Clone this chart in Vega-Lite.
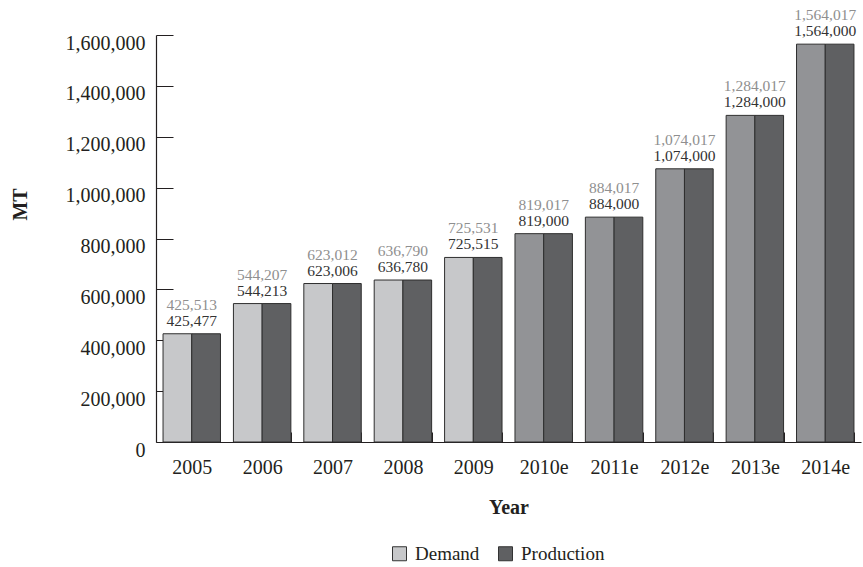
{
  "$schema": "https://vega.github.io/schema/vega-lite/v6.json",
  "width": 705,
  "height": 407,
  "autosize": {"type": "none"},
  "padding": {"left": 156, "top": 35, "right": 2, "bottom": 125},
  "background": "white",
  "config": {"font": "Liberation Serif", "view": {"stroke": null}},
  "data": {
    "values": [
      {"Year": "2005", "Series": "Demand", "Value": 425513},
      {"Year": "2005", "Series": "Production", "Value": 425477},
      {"Year": "2006", "Series": "Demand", "Value": 544207},
      {"Year": "2006", "Series": "Production", "Value": 544213},
      {"Year": "2007", "Series": "Demand", "Value": 623012},
      {"Year": "2007", "Series": "Production", "Value": 623006},
      {"Year": "2008", "Series": "Demand", "Value": 636790},
      {"Year": "2008", "Series": "Production", "Value": 636780},
      {"Year": "2009", "Series": "Demand", "Value": 725531},
      {"Year": "2009", "Series": "Production", "Value": 725515},
      {"Year": "2010e", "Series": "Demand", "Value": 819017},
      {"Year": "2010e", "Series": "Production", "Value": 819000},
      {"Year": "2011e", "Series": "Demand", "Value": 884017},
      {"Year": "2011e", "Series": "Production", "Value": 884000},
      {"Year": "2012e", "Series": "Demand", "Value": 1074017},
      {"Year": "2012e", "Series": "Production", "Value": 1074000},
      {"Year": "2013e", "Series": "Demand", "Value": 1284017},
      {"Year": "2013e", "Series": "Production", "Value": 1284000},
      {"Year": "2014e", "Series": "Demand", "Value": 1564017},
      {"Year": "2014e", "Series": "Production", "Value": 1564000}
    ]
  },
  "encoding": {
    "x": {
      "field": "Year",
      "type": "nominal",
      "sort": null,
      "scale": {"paddingInner": 0.184, "paddingOuter": 0.1},
      "axis": {
        "title": "Year",
        "labelAngle": 0,
        "tickBand": "extent",
        "tickSize": -10,
        "tickOffset": 6.5,
        "tickColor": "#231f20",
        "domainColor": "#231f20",
        "domainWidth": 1.2,
        "labelFontSize": 20,
        "labelColor": "#231f20",
        "labelPadding": 25,
        "labelBaseline": "top",
        "titleFontSize": 20,
        "titleFontWeight": "bold",
        "titleColor": "#231f20",
        "titleY": 65,
        "titleBaseline": "middle"
      }
    },
    "y": {
      "field": "Value",
      "type": "quantitative",
      "scale": {"domain": [0, 1600000]},
      "axis": {
        "title": "MT",
        "values": [0, 200000, 400000, 600000, 800000, 1000000, 1200000, 1400000, 1600000],
        "format": ",d",
        "grid": false,
        "tickSize": -17,
        "tickColor": "#231f20",
        "domainColor": "#231f20",
        "domainWidth": 1.2,
        "labelFontSize": 20,
        "labelColor": "#231f20",
        "labelBaseline": "top",
        "labelOffset": -2,
        "labelPadding": 28,
        "titleFontSize": 20,
        "titleFontWeight": "bold",
        "titleColor": "#231f20",
        "titleAngle": -90,
        "titleX": -136,
        "titleY": 169,
        "titleAlign": "center",
        "titleBaseline": "middle"
      }
    }
  },
  "layer": [
    {
      "mark": {"type": "bar", "stroke": "#2e2e2e", "strokeWidth": 1},
      "encoding": {
        "xOffset": {
          "field": "Series",
          "type": "nominal",
          "sort": ["Demand", "Production"],
          "scale": {"paddingInner": 0, "paddingOuter": 0}
        },
        "color": {
          "condition": {
            "test": "datum.Series === 'Demand' && indexof(datum.Year, 'e') > 0",
            "value": "#929396"
          },
          "field": "Series",
          "type": "nominal",
          "scale": {"domain": ["Demand", "Production"], "range": ["#c7c8ca", "#5f6062"]},
          "legend": {
            "orient": "none",
            "legendX": 234,
            "legendY": 509,
            "direction": "horizontal",
            "title": null,
            "symbolType": "square",
            "symbolSize": 196,
            "symbolStrokeColor": "#333333",
            "symbolStrokeWidth": 1,
            "labelFontSize": 19,
            "labelFont": "Liberation Serif",
            "labelColor": "#231f20",
            "labelOffset": 6,
            "columnPadding": 16,
            "padding": 0
          }
        }
      }
    },
    {
      "transform": [{"filter": "datum.Series === 'Demand'"}],
      "mark": {"type": "text", "dy": -24, "font": "Liberation Serif", "fontSize": 15.5, "color": "#8f8f8f", "baseline": "alphabetic"},
      "encoding": {"text": {"field": "Value", "type": "quantitative", "format": ","}}
    },
    {
      "transform": [{"filter": "datum.Series === 'Production'"}],
      "mark": {"type": "text", "dy": -8, "font": "Liberation Serif", "fontSize": 15.5, "color": "#333333", "baseline": "alphabetic"},
      "encoding": {"text": {"field": "Value", "type": "quantitative", "format": ","}}
    }
  ]
}
